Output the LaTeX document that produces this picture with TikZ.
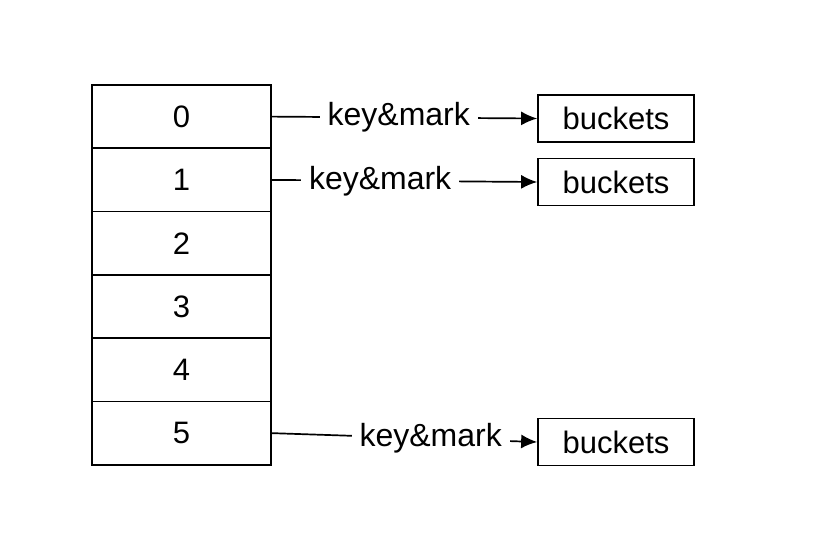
\documentclass[tikz,border=0pt]{standalone}
\usepackage{fontspec}
\setmainfont{Liberation Sans}
\usetikzlibrary{calc, arrows.meta, positioning}
\tikzstyle{cell} = [rectangle, draw=black, line width=1.7pt, outer sep=0pt, minimum width=179pt, minimum height=63.3pt, font=\fontsize{31}{36}\selectfont]
\tikzstyle{bucket} = [rectangle, draw=black, line width=1.7pt, minimum width=156pt, minimum height=47pt, font=\fontsize{31}{36}\selectfont]
\tikzstyle{lbl} = [fill=white, inner sep=8pt, font=\fontsize{32}{37}\selectfont]
\tikzstyle{link} = [-{Latex[length=16pt, width=14pt]}, line width=1.7pt]

\begin{document}
\begin{tikzpicture}[x=1pt, y=-1pt]

        \useasboundingbox (0,0) rectangle (816,536);

        \node (c0) [cell] at (181.5,116.6) {0};
        \node (c1) [cell, below=0pt of c0] {1};
        \node (c2) [cell, below=0pt of c1] {2};
        \node (c3) [cell, below=0pt of c2] {3};
        \node (c4) [cell, below=0pt of c3] {4};
        \node (c5) [cell, below=0pt of c4] {5};

        \node (b0) [bucket] at (616,118.5) {buckets};
        \node (b1) [bucket] at (616,182) {buckets};
        \node (b5) [bucket] at (616,442) {buckets};

        \draw[link] (c0.east) -- node[lbl, pos=0.48] {key\&mark} (b0.west);
        \draw[link] (c1.east) -- node[lbl, pos=0.41] {key\&mark} (b1.west);
        \draw[link] (c5.east) -- node[lbl, pos=0.60] {key\&mark} (b5.west);

    \end{tikzpicture}
\end{document}
